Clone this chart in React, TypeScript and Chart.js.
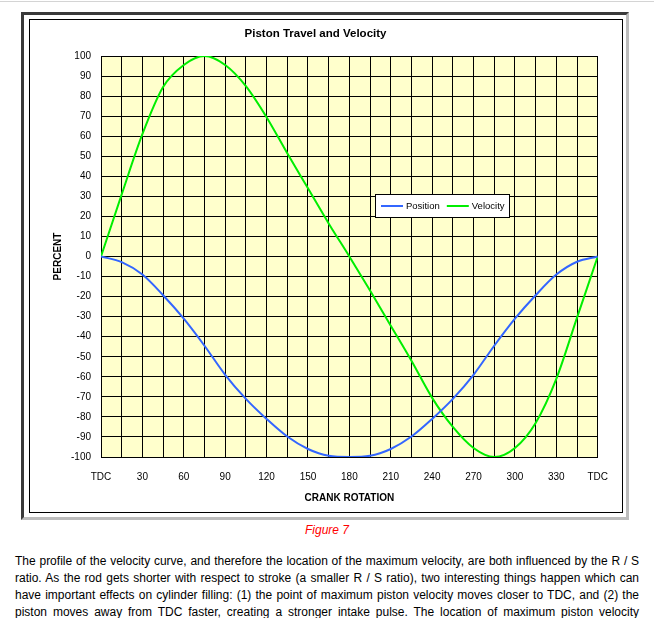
import React, { useEffect, useRef } from 'react';
import { Chart, registerables } from 'chart.js';

Chart.register(...registerables);

// ---- data ----
const ANGLES = [0, 15, 30, 45, 60, 75, 90, 105, 120, 135, 150, 165, 180, 195, 210, 225, 240, 255, 270, 285, 300, 315, 330, 345, 360];
const POSITION = [0, -2.8, -9, -19.3, -31, -44.5, -59, -71, -81, -89.8, -96, -99.4, -100, -99.4, -96, -89.8, -81, -71, -59, -44.5, -31, -19.3, -9, -2.6, 0];
const VELOCITY = [0, 31, 61, 84.5, 95.5, 100, 95.5, 85, 69.5, 51.5, 34, 16.5, 0, -17, -34.5, -52, -70.5, -85, -95.5, -100, -95.5, -83, -61, -30.5, 0];
const SERIES_NAMES = ['Position', 'Velocity'];
const SERIES_COLORS = ['#3366FF', '#00EE00'];
const X_TICK_VALUES = [0, 30, 60, 90, 120, 150, 180, 210, 240, 270, 300, 330, 360];
const X_TICK_LABELS = ['TDC', '30', '60', '90', '120', '150', '180', '210', '240', '270', '300', '330', 'TDC'];
const CHART_TITLE = 'Piston Travel and Velocity';
const X_TITLE = 'CRANK ROTATION';
const Y_TITLE = 'PERCENT';

const PARAGRAPH_LINES = [
  'The profile of the velocity curve, and therefore the location of the maximum velocity, are both influenced by the R / S',
  'ratio. As the rod gets shorter with respect to stroke (a smaller R / S ratio), two interesting things happen which can',
  'have important effects on cylinder filling: (1) the point of maximum piston velocity moves closer to TDC, and (2) the',
  'piston moves away from TDC faster, creating a stronger intake pulse. The location of maximum piston velocity',
];

const ARIAL = "'Liberation Sans', Arial, Helvetica, sans-serif";

const plotBackground = {
  id: 'plotBackground',
  beforeDraw(chart: any) {
    const { ctx, chartArea } = chart;
    ctx.save();
    ctx.fillStyle = '#FFFFCC';
    ctx.fillRect(chartArea.left, chartArea.top, chartArea.right - chartArea.left, chartArea.bottom - chartArea.top);
    ctx.restore();
  },
};

const insideLegend = {
  id: 'insideLegend',
  afterDraw(chart: any) {
    const { ctx, chartArea } = chart;
    const bx = Math.round(chartArea.left + 274);
    const by = Math.round(chartArea.top + 138);
    const bh = 23;
    ctx.save();
    ctx.font = `9.5px ${ARIAL}`;
    const items = chart.data.datasets.map((ds: any) => ({
      label: ds.label,
      color: ds.borderColor,
      w: ctx.measureText(ds.label).width,
    }));
    let bw = 6;
    items.forEach((it: any, i: number) => {
      bw += 22 + 3 + it.w + (i < items.length - 1 ? 7 : 4);
    });
    bw = Math.round(bw);
    ctx.fillStyle = '#FFFFFF';
    ctx.fillRect(bx, by, bw, bh);
    ctx.strokeStyle = '#000000';
    ctx.lineWidth = 1;
    ctx.strokeRect(bx + 0.5, by + 0.5, bw, bh);
    ctx.textBaseline = 'middle';
    ctx.textAlign = 'left';
    const cy = by + 12;
    let x = bx + 6;
    items.forEach((it: any) => {
      ctx.strokeStyle = it.color;
      ctx.lineWidth = 2;
      ctx.beginPath();
      ctx.moveTo(x, cy);
      ctx.lineTo(x + 22, cy);
      ctx.stroke();
      x += 25;
      ctx.fillStyle = '#000000';
      ctx.fillText(it.label, x, cy);
      x += it.w + 7;
    });
    ctx.restore();
  },
};

function PistonChart() {
  const ref = useRef<HTMLCanvasElement | null>(null);
  useEffect(() => {
    if (!ref.current) return;
    const series = [POSITION, VELOCITY];
    const chart = new Chart(ref.current, {
      type: 'line',
      data: {
        datasets: series.map((vals, si) => ({
          label: SERIES_NAMES[si],
          data: ANGLES.map((a, i) => ({ x: a, y: vals[i] })),
          borderColor: SERIES_COLORS[si],
          backgroundColor: SERIES_COLORS[si],
          borderWidth: 2,
          pointRadius: 0,
          pointHoverRadius: 0,
          fill: false,
          cubicInterpolationMode: 'monotone' as const,
        })),
      },
      options: {
        animation: false,
        responsive: false,
        maintainAspectRatio: false,
        events: [],
        layout: { padding: { left: 0, right: 21, top: 0, bottom: 0 } },
        plugins: {
          legend: { display: false },
          tooltip: { enabled: false },
          title: {
            display: true,
            text: CHART_TITLE,
            color: '#000000',
            font: { family: ARIAL, size: 11.5, weight: 'bold', lineHeight: 1.2 },
            padding: { top: 6.6, bottom: 15.6 },
          },
        },
        scales: {
          x: {
            type: 'linear',
            min: 0,
            max: 360,
            afterFit(scale: any) {
              scale.height = 55;
            },
            grid: { color: '#000000', lineWidth: 1, drawTicks: false },
            border: { display: true, color: '#000000', width: 1 },
            ticks: {
              stepSize: 15,
              autoSkip: false,
              maxRotation: 0,
              padding: 14,
              color: '#000000',
              font: { family: ARIAL, size: 10 },
              callback: (value: any) => {
                const idx = X_TICK_VALUES.indexOf(Number(value));
                return idx >= 0 ? X_TICK_LABELS[idx] : '';
              },
            },
            title: {
              display: true,
              text: X_TITLE,
              color: '#000000',
              font: { family: ARIAL, size: 10, weight: 'bold', lineHeight: 1.2 },
              padding: { top: 0, bottom: 8 },
            },
          },
          y: {
            type: 'linear',
            min: -100,
            max: 100,
            afterFit(scale: any) {
              scale.width = 71;
            },
            grid: { color: '#000000', lineWidth: 1, drawTicks: false },
            border: { display: true, color: '#000000', width: 1 },
            ticks: {
              stepSize: 10,
              autoSkip: false,
              padding: 10,
              color: '#000000',
              font: { family: ARIAL, size: 10 },
            },
            title: {
              display: true,
              text: Y_TITLE,
              color: '#000000',
              font: { family: ARIAL, size: 10, weight: 'bold', lineHeight: 1.2 },
              padding: { top: 22, bottom: 0 },
            },
          },
        },
      },
      plugins: [plotBackground, insideLegend],
    } as any);
    return () => chart.destroy();
  }, []);
  return <canvas ref={ref} width={592} height={492} style={{ display: 'block', width: 592, height: 492 }} />;
}

export default function App() {
  return (
    <div style={{ position: 'absolute', left: 0, top: 0, width: 654, height: 618, background: '#FFFFFF', overflow: 'hidden', fontFamily: ARIAL }}>
      <div style={{ position: 'absolute', left: 0, top: 1, width: 654, height: 1, background: '#D4D4D4' }} />
      <div
        style={{
          position: 'absolute',
          left: 21,
          top: 12,
          width: 608,
          height: 508,
          boxSizing: 'border-box',
          borderTop: '3px solid #3A3A3A',
          borderLeft: '3px solid #3A3A3A',
          borderRight: '3px solid #BDBDBD',
          borderBottom: '3px solid #BDBDBD',
        }}
      />
      <div
        style={{
          position: 'absolute',
          left: 29,
          top: 19,
          width: 594,
          height: 494,
          boxSizing: 'border-box',
          border: '1px solid #000000',
          background: '#FFFFFF',
        }}
      >
        <PistonChart />
      </div>
      <div
        style={{
          position: 'absolute',
          left: 0,
          top: 522,
          width: 654,
          textAlign: 'center',
          fontSize: 12,
          lineHeight: '16px',
          fontStyle: 'italic',
          color: '#FF0000',
        }}
      >
        Figure 7
      </div>
      <div style={{ position: 'absolute', left: 15, top: 553, width: 624, fontSize: 12, lineHeight: '17px', color: '#000000' }}>
        {PARAGRAPH_LINES.map((line, i) => (
          <div key={i} style={{ textAlign: 'justify', textAlignLast: 'justify', whiteSpace: 'nowrap' } as any}>
            {line}
          </div>
        ))}
      </div>
    </div>
  );
}
